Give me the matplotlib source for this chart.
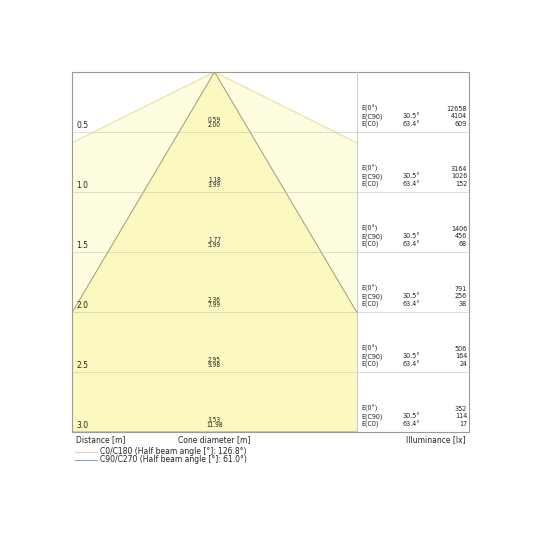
import matplotlib
matplotlib.use("Agg")
import matplotlib.pyplot as plt
from matplotlib.patches import Polygon, Rectangle
from matplotlib.lines import Line2D

# data
distances = [0.5, 1.0, 1.5, 2.0, 2.5, 3.0]
c90_diam = [0.59, 1.18, 1.77, 2.36, 2.95, 3.53]
c0_diam = [2.00, 3.99, 5.99, 7.99, 9.98, 11.98]
e_0 = [12658, 3164, 1406, 791, 506, 352]
e_c90 = [4104, 1026, 456, 256, 164, 114]
e_c0 = [609, 152, 68, 38, 24, 17]
c90_half = 30.5
c0_half = 63.4
c0_legend = "C0/C180 (Half beam angle [°]: 126.8°)"
c90_legend = "C90/C270 (Half beam angle [°]: 61.0°)"

half_w = 1.18          # half width of the cone area
x_right = 2.107        # right edge of the table panel
fs = 5.5
fs_tab = 5.1
fs_dia = 4.7
txt = "#222222"
cond = dict(fontstretch="condensed")

fig = plt.figure(figsize=(5.4, 5.4), dpi=100)
ax = fig.add_axes([72 / 540, 108 / 540, 397 / 540, 360 / 540])
ax.set_xlim(-half_w, x_right)
ax.set_ylim(3.0, 0)
ax.axis("off")

dmax = distances[-1]
clip = Rectangle((-half_w, 0), 2 * half_w, dmax, transform=ax.transData)

# wide cone (C0/C180)
wide = Polygon([(0, 0), (-c0_diam[-1] / 2, dmax), (c0_diam[-1] / 2, dmax)],
               closed=True, facecolor="#fefde0", edgecolor="#eed3a6", lw=0.7)
ax.add_patch(wide)
wide.set_clip_path(clip)

# narrow cone (C90/C270)
narrow = Polygon([(0, 0), (-c90_diam[-1] / 2, dmax), (c90_diam[-1] / 2, dmax)],
                 closed=True, facecolor="#fbf9bf", edgecolor="#9c9a7c", lw=0.7)
ax.add_patch(narrow)
narrow.set_clip_path(clip)

# horizontal distance lines
for d in distances[:-1]:
    ax.plot([-half_w, x_right], [d, d], color="#bdbdb0", lw=0.7, alpha=0.5)

# frame and divider
ax.add_patch(Rectangle((-half_w, 0), x_right + half_w, dmax, fill=False,
                       edgecolor="#9a9a9a", lw=0.8, clip_on=False))
ax.plot([half_w, half_w], [0, dmax], color="#c8c8c8", lw=0.7)

for i, d in enumerate(distances):
    ax.text(-half_w + 0.035, d - 0.02, f"{d:.1f}", fontsize=fs, va="bottom",
            ha="left", color=txt)
    ax.text(0, d - 0.1, f"{c90_diam[i]:.2f}", fontsize=fs_dia, va="center",
            ha="center", color=txt, **cond)
    ax.text(0, d - 0.057, f"{c0_diam[i]:.2f}", fontsize=fs_dia, va="center",
            ha="center", color=txt, **cond)
    rows = [("E(0°)", "", e_0[i]),
            ("E(C90)", f"{c90_half}°", e_c90[i]),
            ("E(C0)", f"{c0_half}°", e_c0[i])]
    for j, (lab, ang, val) in enumerate(rows):
        y = d - 0.195 + j * 0.065
        ax.text(half_w + 0.037, y, lab, fontsize=fs_tab, va="center",
                ha="left", color=txt, **cond)
        if ang:
            ax.text(1.553, y, ang, fontsize=fs_tab, va="center", ha="left",
                    color=txt, **cond)
        ax.text(2.091, y, str(val), fontsize=fs_tab, va="center", ha="right",
                color=txt, **cond)

# bottom labels
fig.text(76 / 540, 1 - 440 / 540, "Distance [m]", fontsize=fs, va="center",
         ha="left", color=txt)
fig.text(214 / 540, 1 - 440 / 540, "Cone diameter [m]", fontsize=fs,
         va="center", ha="center", color=txt)
fig.text(466 / 540, 1 - 440 / 540, "Illuminance [lx]", fontsize=fs,
         va="center", ha="right", color=txt)

# legend
for yy, col, lab in [(452, "#eed3a6", c0_legend), (460, "#9aa0b6", c90_legend)]:
    fig.add_artist(Line2D([75 / 540, 97 / 540], [1 - yy / 540, 1 - yy / 540],
                          color=col, lw=0.8, transform=fig.transFigure))
    fig.text(100 / 540, 1 - yy / 540, lab, fontsize=fs, va="center",
             ha="left", color=txt)

plt.savefig("out.png", dpi=100)
